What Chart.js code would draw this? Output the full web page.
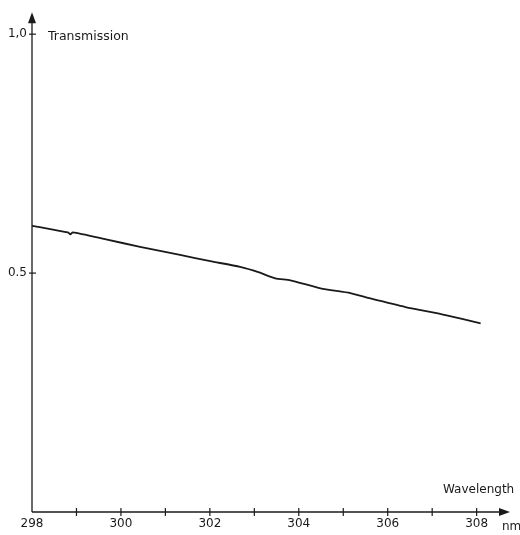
<!DOCTYPE html>
<html>
<head>
<meta charset="utf-8">
<script src="https://cdn.jsdelivr.net/npm/chart.js@4.4.1/dist/chart.umd.min.js"></script>
<style>
  html, body { margin: 0; padding: 0; background: #ffffff; }
  #c { display: block; }
</style>
</head>
<body>
<canvas id="c" width="520" height="535"></canvas>
<script>
// ---- data ----
const wavelengths = [298.00, 298.41, 298.81, 298.86, 298.92, 299.64, 300.43, 301.33, 302.01, 302.68, 303.09, 303.47, 303.81, 304.49, 305.16, 305.61, 306.40, 307.30, 308.09];
const transmission = [0.599, 0.592, 0.585, 0.581, 0.585, 0.571, 0.555, 0.538, 0.525, 0.513, 0.502, 0.489, 0.485, 0.468, 0.458, 0.447, 0.429, 0.412, 0.395];
const xTickValues = [298, 299, 300, 301, 302, 303, 304, 305, 306, 307, 308];
const xTickLabels = ['298', '', '300', '', '302', '', '304', '', '306', '', '308'];
const yTickValues = [0.5, 1.0];
const yTickLabels = ['0.5', '1,0'];
const yTitle = 'Transmission';
const xTitle = 'Wavelength';
const xUnit = 'nm';

const ink = '#1a1a1a';
const font = 'DejaVu Sans';

const points = wavelengths.map((w, i) => ({ x: w, y: transmission[i] }));

const axesPlugin = {
  id: 'axesPlugin',
  afterDraw(chart) {
    const ctx = chart.ctx;
    const xs = chart.scales.x, ys = chart.scales.y;
    const area = chart.chartArea;
    const x0 = xs.getPixelForValue(298);
    const y0 = ys.getPixelForValue(0);
    ctx.save();
    ctx.strokeStyle = ink;
    ctx.fillStyle = ink;
    ctx.lineWidth = 1.3;
    // y axis
    ctx.beginPath();
    ctx.moveTo(x0, y0);
    ctx.lineTo(x0, area.top + 8);
    ctx.stroke();
    ctx.beginPath();
    ctx.moveTo(x0, area.top);
    ctx.lineTo(x0 - 4, area.top + 11);
    ctx.lineTo(x0 + 4, area.top + 11);
    ctx.closePath();
    ctx.fill();
    // x axis
    ctx.beginPath();
    ctx.moveTo(x0, y0);
    ctx.lineTo(area.right - 8, y0);
    ctx.stroke();
    ctx.beginPath();
    ctx.moveTo(area.right, y0);
    ctx.lineTo(area.right - 11, y0 - 4);
    ctx.lineTo(area.right - 11, y0 + 4);
    ctx.closePath();
    ctx.fill();
    // crossing tick marks
    ctx.lineWidth = 1.2;
    yTickValues.forEach(v => {
      const p = ys.getPixelForValue(v);
      ctx.beginPath();
      ctx.moveTo(x0 - 3, p);
      ctx.lineTo(x0 + 4, p);
      ctx.stroke();
    });
    xTickValues.forEach(v => {
      if (v === 298) return;
      const p = xs.getPixelForValue(v);
      ctx.beginPath();
      ctx.moveTo(p, y0 - 4);
      ctx.lineTo(p, y0 + 4);
      ctx.stroke();
    });
    // titles
    ctx.font = '12.5px "' + font + '"';
    ctx.textAlign = 'left';
    ctx.textBaseline = 'middle';
    ctx.fillText(yTitle, x0 + 16, ys.getPixelForValue(1.0) + 3);
    ctx.textBaseline = 'alphabetic';
    ctx.font = '12px "' + font + '"';
    ctx.fillText(xTitle, 443, y0 - 19);
    ctx.fillText(xUnit, 502, 530);
    ctx.restore();
  }
};

new Chart(document.getElementById('c'), {
  type: 'scatter',
  data: {
    datasets: [{
      data: points,
      showLine: true,
      borderColor: ink,
      borderWidth: 1.8,
      pointRadius: 0,
      tension: 0.2,
      fill: false
    }]
  },
  options: {
    responsive: false,
    animation: false,
    devicePixelRatio: 1,
    layout: { padding: { top: 12, right: 10, left: 0, bottom: 0 } },
    plugins: { legend: { display: false }, tooltip: { enabled: false } },
    scales: {
      x: {
        type: 'linear',
        min: 298,
        max: 308.75,
        grid: { display: false, drawTicks: false },
        border: { display: false },
        afterBuildTicks: s => { s.ticks = xTickValues.map(v => ({ value: v })); },
        afterFit: s => { s.height = 23; },
        ticks: {
          autoSkip: false,
          maxRotation: 0,
          padding: 5,
          color: ink,
          font: { family: font, size: 12 },
          callback: (v) => { const i = xTickValues.indexOf(v); return i >= 0 ? xTickLabels[i] : ''; }
        }
      },
      y: {
        type: 'linear',
        min: 0,
        max: 1.046,
        grid: { display: false, drawTicks: false },
        border: { display: false },
        afterBuildTicks: s => { s.ticks = yTickValues.map(v => ({ value: v })); },
        afterFit: s => { s.width = 32; },
        ticks: {
          padding: 5,
          color: ink,
          font: { family: font, size: 12 },
          callback: (v) => { const i = yTickValues.indexOf(v); return i >= 0 ? yTickLabels[i] : ''; }
        }
      }
    }
  },
  plugins: [axesPlugin]
});
</script>
</body>
</html>
